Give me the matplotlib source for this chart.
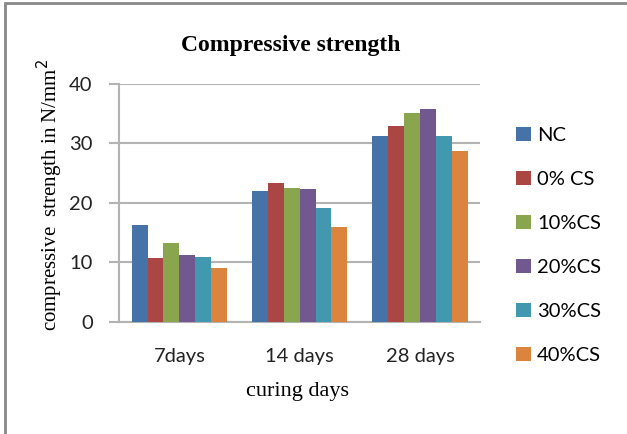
import matplotlib.pyplot as plt
import numpy as np
from matplotlib.patches import Rectangle

categories = ["7days", "14 days", "28 days"]
series_names = ["NC", "0% CS", "10%CS", "20%CS", "30%CS", "40%CS"]
nc = [16.2, 22.0, 31.3]
cs0 = [10.8, 23.3, 33.0]
cs10 = [13.2, 22.5, 35.2]
cs20 = [11.2, 22.3, 35.8]
cs30 = [10.9, 19.1, 31.3]
cs40 = [9.1, 16.0, 28.8]
colors = ["#4572A7", "#AA4643", "#89A54E", "#71588F", "#4198AF", "#DB843D"]

all_series = [nc, cs0, cs10, cs20, cs30, cs40]

fig = plt.figure(figsize=(6.27, 4.34), dpi=100)
ax = fig.add_axes([0.190, 0.2587, 0.576, 0.5478])

x = np.arange(len(categories))
w = 0.132
for k, (vals, name, c) in enumerate(zip(all_series, series_names, colors)):
    ax.bar(x + (k - 2.5) * w, vals, w, color=c, label=name, zorder=3)

ax.set_xlim(-0.5, 2.5)
ax.set_ylim(0, 40)
ax.set_yticks([0, 10, 20, 30, 40])
ax.set_xticks(x)
ax.set_xticklabels(categories)
ax.yaxis.grid(True, color="#B3B3B3", linewidth=1.5, zorder=0)
for s in ["top", "right"]:
    ax.spines[s].set_visible(False)
ax.spines["left"].set_color("#B3B3B3")
ax.spines["bottom"].set_color("#B3B3B3")
ax.spines["left"].set_linewidth(1.5)
ax.spines["bottom"].set_linewidth(1.5)
ax.tick_params(axis="y", length=7, width=1.5, color="#B3B3B3", pad=12,
               labelsize=14.5, labelcolor="#222222")
ax.tick_params(axis="x", length=0, pad=19, labelsize=14.5, labelcolor="#222222")
for lab in ax.get_xticklabels() + ax.get_yticklabels():
    lab.set_family("Lato")

fig.text(0.464, 0.896, "Compressive strength", ha="center", va="center",
         family="Liberation Serif", fontweight="bold", fontsize=17)
fig.text(0.474, 0.099, "curing days", ha="center", va="center",
         family="Liberation Serif", fontsize=16)
fig.text(0.08, 0.55, "compressive  strength in N/mm$^2$", ha="center", va="center",
         rotation=90, family="Liberation Serif", fontsize=15)

leg = ax.legend(loc="upper left", bbox_to_anchor=(1.05, 0.895), frameon=False,
                prop={"family": "Lato", "size": 14.5}, handlelength=0.72,
                handleheight=0.72, handletextpad=0.3, labelspacing=1.33)

fig.add_artist(Rectangle((5 / 627, -0.1), 1.2, 1 - 3 / 434 + 0.1,
                         transform=fig.transFigure, fill=False,
                         edgecolor="#888888", linewidth=2))

fig.savefig("out.png", dpi=100)
